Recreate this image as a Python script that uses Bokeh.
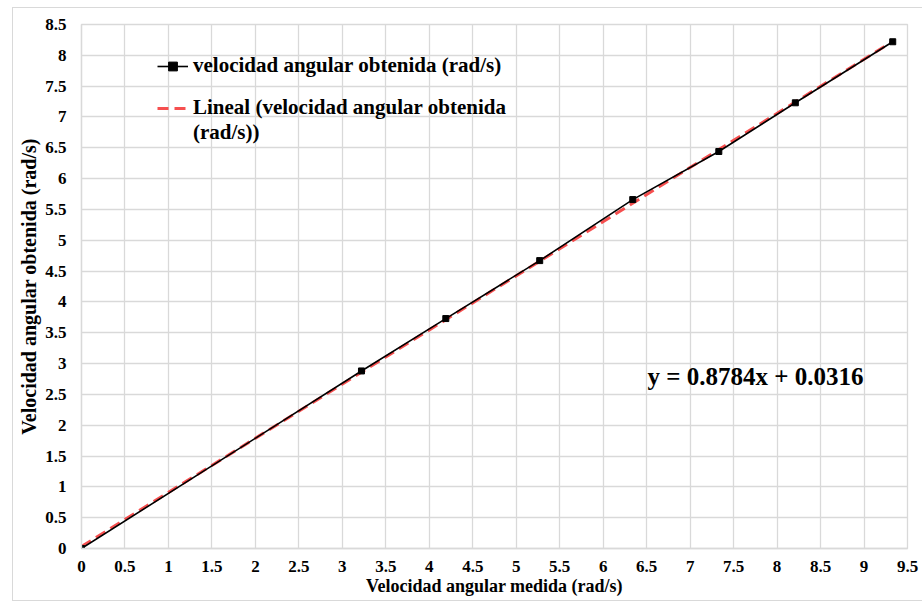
from bokeh.plotting import figure
from bokeh.models import (FixedTicker, Legend, LegendItem, Label, ColumnDataSource)
from bokeh.embed import file_html
from bokeh.resources import INLINE

# Measured vs. obtained angular velocity (rad/s)
medida = [0.0, 3.22, 4.19, 5.27, 6.34, 7.33, 8.21, 9.33]
obtenida = [0.0, 2.88, 3.73, 4.67, 5.66, 6.44, 7.23, 8.22]

# Linear trend fitted to the series
slope = 0.8784
intercept = 0.0316

x_ticks = [0, 0.5, 1, 1.5, 2, 2.5, 3, 3.5, 4, 4.5, 5, 5.5, 6, 6.5, 7, 7.5, 8, 8.5, 9, 9.5]
x_tick_labels = ["0", "0.5", "1", "1.5", "2", "2.5", "3", "3.5", "4", "4.5", "5",
                 "5.5", "6", "6.5", "7", "7.5", "8", "8.5", "9", "9.5"]
y_ticks = [0, 0.5, 1, 1.5, 2, 2.5, 3, 3.5, 4, 4.5, 5, 5.5, 6, 6.5, 7, 7.5, 8, 8.5]
y_tick_labels = ["0", "0.5", "1", "1.5", "2", "2.5", "3", "3.5", "4", "4.5", "5",
                 "5.5", "6", "6.5", "7", "7.5", "8", "8.5"]

FONT = "'Liberation Serif', 'Times New Roman', serif"
GRID = "#d9d9d9"

p = figure(frame_width=826, frame_height=524,
           min_border_left=68, min_border_right=15,
           min_border_top=16, min_border_bottom=52,
           x_range=(0, 9.5), y_range=(0, 8.5),
           output_backend="svg", toolbar_location=None,
           background_fill_color="white", border_fill_color="white")

# thin outer frame around the whole chart
p.styles = {"border": "1px solid #d9d9d9", "margin-left": "12px", "margin-top": "7px"}

p.outline_line_color = GRID
p.outline_line_width = 1.3

for ax, ticks, labels in ((p.xaxis[0], x_ticks, x_tick_labels),
                          (p.yaxis[0], y_ticks, y_tick_labels)):
    ax.ticker = FixedTicker(ticks=ticks)
    ax.major_label_overrides = {t: s for t, s in zip(ticks, labels)}
    ax.major_tick_line_color = None
    ax.minor_tick_line_color = None
    ax.major_tick_out = 0
    ax.minor_tick_out = 0
    ax.axis_line_color = GRID
    ax.axis_line_width = 1.3
    ax.major_label_text_font = FONT
    ax.major_label_text_font_style = "bold"
    ax.major_label_text_font_size = "17px"
    ax.major_label_text_color = "black"
    ax.axis_label_text_font = FONT
    ax.axis_label_text_font_style = "bold"
    ax.axis_label_text_color = "black"

p.xaxis.axis_label_text_font_size = "18px"
p.yaxis.axis_label_text_font_size = "20px"
p.xaxis.major_label_standoff = 12
p.yaxis.major_label_standoff = 15
p.xaxis.axis_label = "Velocidad angular medida (rad/s)"
p.yaxis.axis_label = "Velocidad angular obtenida (rad/s)"
p.xaxis.axis_label_standoff = 1
p.yaxis.axis_label_standoff = 2

p.xgrid.ticker = FixedTicker(ticks=x_ticks)
p.ygrid.ticker = FixedTicker(ticks=y_ticks)
p.grid.grid_line_color = GRID
p.grid.grid_line_width = 1.3

# Trend line over the measured span
x_end = medida[-1]
trend = ColumnDataSource(dict(x=[0.0, x_end],
                              y=[intercept, slope * x_end + intercept]))
trend_r = p.line("x", "y", source=trend, line_color="#f53c3c", line_width=3,
                 line_dash="11 6", line_alpha=0.9)

src = ColumnDataSource(dict(x=medida, y=obtenida))
line_r = p.line("x", "y", source=src, line_color="black", line_width=1.6)
pts_r = p.scatter("x", "y", source=src, marker="square", size=6,
                  fill_color="black", line_color="black")

# Blank renderer carrying the wrapped second line of the trend legend entry
blank_r = p.line([], [], line_alpha=0)

def make_legend(items, loc):
    lg = Legend(items=items, location=loc, orientation="vertical",
                border_line_color=None, background_fill_alpha=0,
                padding=0, margin=0, spacing=0,
                glyph_width=31, glyph_height=22, label_height=22,
                label_standoff=5,
                label_text_font=FONT, label_text_font_style="bold",
                label_text_font_size="21px", label_text_color="black")
    return lg

leg1 = make_legend([LegendItem(label="velocidad angular obtenida (rad/s)",
                               renderers=[line_r, pts_r])], (76, 470))
leg2 = make_legend([LegendItem(label="Lineal (velocidad angular obtenida",
                               renderers=[trend_r]),
                    LegendItem(label="(rad/s))", renderers=[blank_r])], (76, 403))
p.add_layout(leg1)
p.add_layout(leg2)

eq = Label(x=6.51, y=2.79, text=f"y = {slope:.4f}x + {intercept:.4f}",
           text_font=FONT, text_font_style="bold", text_font_size="25px",
           text_color="black", text_baseline="middle", text_align="left")
p.add_layout(eq)

open("out.html", "w").write(file_html(p, INLINE))
